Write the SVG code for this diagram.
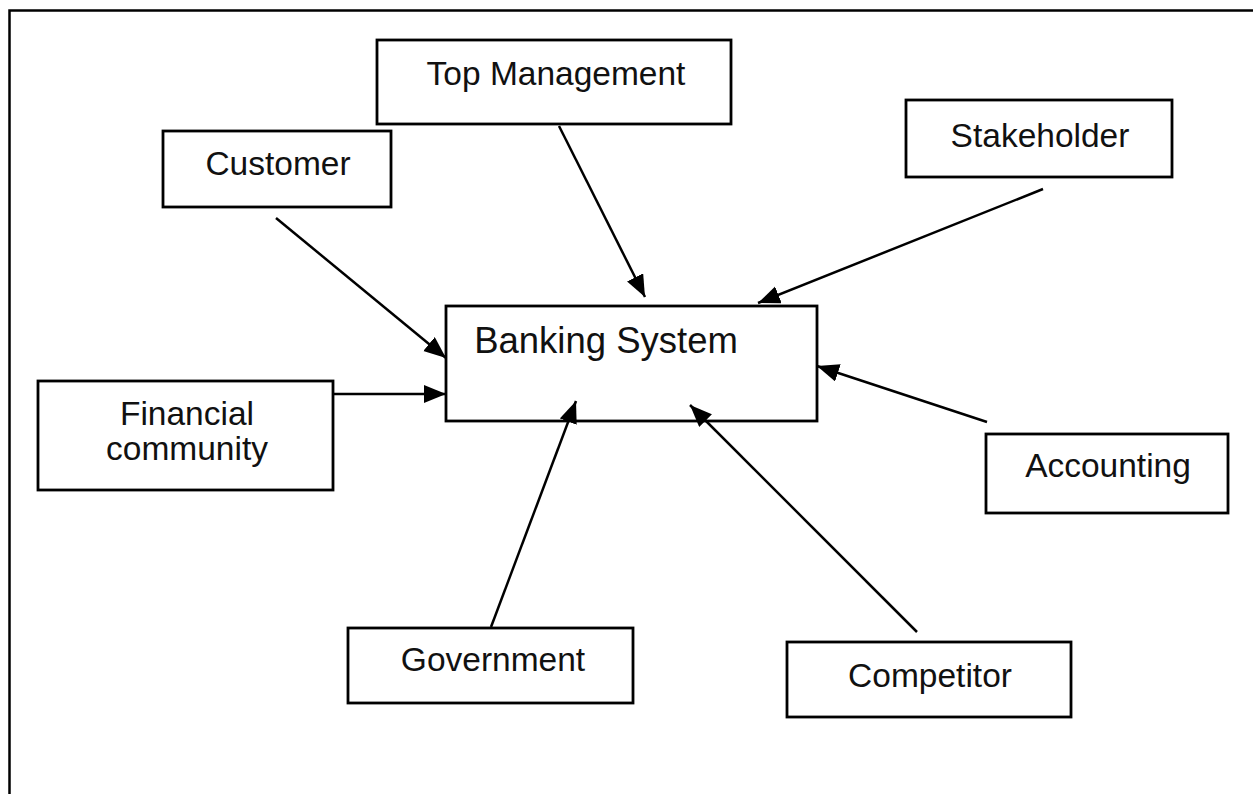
<svg xmlns="http://www.w3.org/2000/svg" width="1253" height="794" viewBox="0 0 1253 794">
<style>
.box{fill:#fff;stroke:#000;stroke-width:2.8}
.lbl{font-family:"Liberation Sans",Arial,sans-serif;font-size:33.5px;fill:#111;text-anchor:middle}
.conn line{stroke:#000;stroke-width:2.5;marker-end:url(#ah)}
</style>
<defs>
<marker id="ah" markerUnits="userSpaceOnUse" markerWidth="24" markerHeight="20" refX="22" refY="9" orient="auto">
<path d="M0,0 L22,9 L0,18 Z" fill="#000"/>
</marker>
</defs>
<rect x="0" y="0" width="1253" height="794" fill="#fff"/>
<path d="M9.5,794 V10.5 H1253" fill="none" stroke="#000" stroke-width="2.5"/>
<g id="top-management"><rect class="box" x="377" y="40" width="354" height="84"/><text class="lbl" x="556" y="85">Top Management</text></g>
<g id="customer"><rect class="box" x="163" y="131" width="228" height="76"/><text class="lbl" x="278" y="175">Customer</text></g>
<g id="stakeholder"><rect class="box" x="906" y="100" width="266" height="77"/><text class="lbl" x="1040" y="147">Stakeholder</text></g>
<g id="banking-system"><rect class="box" x="446" y="306" width="371" height="115"/><text class="lbl" x="606" y="353" style="font-size:36.5px">Banking System</text></g>
<g id="financial-community"><rect class="box" x="38" y="381" width="295" height="109"/><text class="lbl" x="187" y="425">Financial</text><text class="lbl" x="187" y="460">community</text></g>
<g id="accounting"><rect class="box" x="986" y="434" width="242" height="79"/><text class="lbl" x="1108" y="477">Accounting</text></g>
<g id="government"><rect class="box" x="348" y="628" width="285" height="75"/><text class="lbl" x="493" y="671">Government</text></g>
<g id="competitor"><rect class="box" x="787" y="642" width="284" height="75"/><text class="lbl" x="930" y="687">Competitor</text></g>
<g id="connectors" class="conn">
<line x1="559" y1="126" x2="645" y2="297"/>
<line x1="276" y1="218" x2="446" y2="358"/>
<line x1="1043" y1="189" x2="758" y2="303"/>
<line x1="333" y1="394" x2="446" y2="394"/>
<line x1="987" y1="422" x2="817" y2="366"/>
<line x1="491" y1="627" x2="576" y2="401"/>
<line x1="917" y1="632" x2="690" y2="405"/>
</g>
</svg>
